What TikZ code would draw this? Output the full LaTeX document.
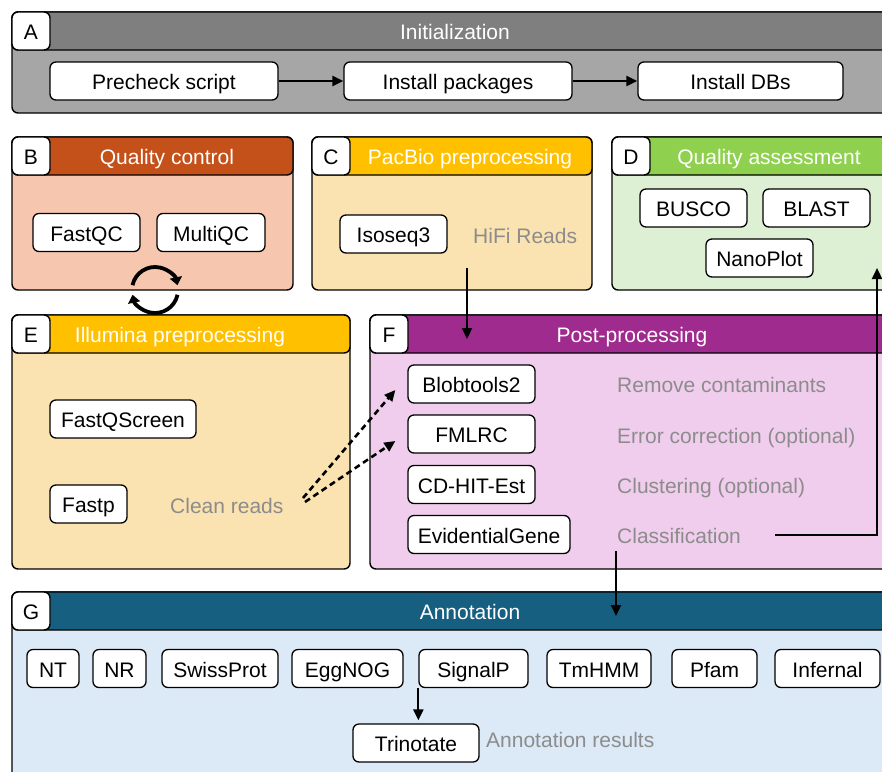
\documentclass[tikz,border=0pt]{standalone}
\usepackage{fontspec}
\setmainfont{Liberation Sans}
\usetikzlibrary{arrows.meta}

\definecolor{headA}{HTML}{7F7F7F}
\definecolor{bodyA}{HTML}{A6A6A6}
\definecolor{headB}{HTML}{C4511A}
\definecolor{bodyB}{HTML}{F6C6AE}
\definecolor{headC}{HTML}{FFC000}
\definecolor{bodyC}{HTML}{FAE3B0}
\definecolor{headD}{HTML}{8FD14F}
\definecolor{bodyD}{HTML}{DDF0D4}
\definecolor{headF}{HTML}{A02B8F}
\definecolor{bodyF}{HTML}{F0CDEC}
\definecolor{headG}{HTML}{175F80}
\definecolor{bodyG}{HTML}{DCE9F6}
\definecolor{notegray}{HTML}{8C8C8C}

\begin{document}
\begin{tikzpicture}[x=1pt, y=-1pt, font=\fontsize{21}{25}\selectfont,
	panel/.style={draw=black, line width=1.4pt, rounded corners=6pt},
	tag/.style={draw=black, fill=white, line width=1.4pt, rounded corners=6pt, minimum width=38pt, minimum height=38pt, inner sep=0pt, text height=17.5pt, text depth=0.5pt},
	title/.style={text=white, inner sep=0pt, text height=17.5pt, text depth=0.5pt},
	tool/.style={draw=black, fill=white, line width=1.3pt, rounded corners=6pt, minimum height=38pt, inner sep=2pt, text height=17.5pt, text depth=0.5pt},
	note/.style={text=notegray, anchor=west, inner sep=0pt, text height=17.5pt, text depth=0.5pt},
	arr/.style={-{Triangle[length=11pt,width=10pt]}, line width=2.2pt},
	dasharr/.style={arr, line width=2.6pt, dash pattern=on 6pt off 4pt},
	cycarr/.style={-{Triangle[length=8pt,width=12pt]}, line width=3.8pt}]
			\path[use as bounding box] (0,0) rectangle (882,771);
			\clip (0,0) rectangle (882,771);
			
			\draw[panel, fill=bodyA] (12,12) rectangle (895,113);
			\draw[panel, fill=headA] (12,12) rectangle (895,50);
			\node[tag] (tA) at (31,31){A};
			\node[title] (hA) at (455,31){Initialization};
			\node[tool, minimum width=228] (pre) at (164,81){Precheck script};
			\node[tool, minimum width=228] (pkg) at (458,81){Install packages};
			\node[tool, minimum width=205] (dbs) at (740.5,81){Install DBs};
			
			\draw[panel, fill=bodyB] (12,137) rectangle (293,290);
			\draw[panel, fill=headB] (12,137) rectangle (293,175);
			\node[tag] (tB) at (31,156){B};
			\node[title] (hB) at (167,156){Quality control};
			\node[tool, minimum width=107] (fastqc) at (86.5,232.5){FastQC};
			\node[tool, minimum width=108] (multiqc) at (211,232.5){MultiQC};
			
			\draw[panel, fill=bodyC] (312,137) rectangle (592,290);
			\draw[panel, fill=headC] (312,137) rectangle (592,175);
			\node[tag] (tC) at (331,156){C};
			\node[title] (hC) at (470,156){PacBio preprocessing};
			\node[tool, minimum width=107] (isoseq) at (393.5,234){Isoseq3};
			\node[note] (hifi) at (473,235){HiFi Reads};
			
			\draw[panel, fill=bodyD] (612,137) rectangle (895,290);
			\draw[panel, fill=headD] (612,137) rectangle (895,175);
			\node[tag] (tD) at (631,156){D};
			\node[title] (hD) at (769,156){Quality assessment};
			\node[tool, minimum width=107] (busco) at (693.5,208){BUSCO};
			\node[tool, minimum width=107] (blast) at (816.5,208){BLAST};
			\node[tool, minimum width=107] (nanoplot) at (759.5,258){NanoPlot};
			
			\draw[panel, fill=bodyC] (12,315) rectangle (350,569);
			\draw[panel, fill=headC] (12,315) rectangle (350,353);
			\node[tag] (tE) at (31,334){E};
			\node[title] (hE) at (180,334){Illumina preprocessing};
			\node[tool, minimum width=146] (fastqscreen) at (123,419){FastQScreen};
			\node[tool, minimum width=77] (fastp) at (88.5,504){Fastp};
			\node[note] (clean) at (170,505){Clean reads};
			
			\draw[panel, fill=bodyF] (370,315) rectangle (895,569);
			\draw[panel, fill=headF] (370,315) rectangle (895,353);
			\node[tag] (tF) at (389,334){F};
			\node[title] (hF) at (632,334){Post-processing};
			\node[tool, minimum width=127] (blob) at (471.5,384){Blobtools2};
			\node[tool, minimum width=127] (fmlrc) at (471.5,434){FMLRC};
			\node[tool, minimum width=127] (cdhit) at (471.5,484.5){CD-HIT-Est};
			\node[tool, minimum width=162] (evid) at (489,534.5){EvidentialGene};
			\node[note] (rmcont) at (617,384){Remove contaminants};
			\node[note] (errcor) at (617,435){Error correction (optional)};
			\node[note] (clust) at (617,485){Clustering (optional)};
			\node[note] (classif) at (617,535){Classification};
			
			\draw[panel, fill=bodyG] (12,592) rectangle (895,790);
			\draw[panel, fill=headG] (12,592) rectangle (895,630);
			\node[tag] (tG) at (31,611){G};
			\node[title] (hG) at (470,611){Annotation};
			\node[tool, minimum width=52] (nt) at (53,668.5){NT};
			\node[tool, minimum width=53] (nr) at (119.5,668.5){NR};
			\node[tool, minimum width=116] (swissprot) at (220,668.5){SwissProt};
			\node[tool, minimum width=111] (eggnog) at (347.5,668.5){EggNOG};
			\node[tool, minimum width=109] (signalp) at (473.5,668.5){SignalP};
			\node[tool, minimum width=104] (tmhmm) at (599,668.5){TmHMM};
			\node[tool, minimum width=85] (pfam) at (714.5,668.5){Pfam};
			\node[tool, minimum width=105] (infernal) at (827.5,668.5){Infernal};
			\node[tool, minimum width=126] (trino) at (416,743){Trinotate};
			\node[note] (annres) at (486,739){Annotation results};
			
			\coordinate (hifiout) at (467,268);
			\coordinate (postin) at (467,339);
			\coordinate (clean1) at (303,498);
			\coordinate (clean2) at (305,502);
			\coordinate (clsout) at (775,535);
			\coordinate (qain) at (877,268);
			\coordinate (clsdown) at (616,551);
			\coordinate (annin) at (616,616);
			\coordinate (cyc) at (155,290);
			
			\draw[arr] (pre) -- (pkg);
			\draw[arr] (pkg) -- (dbs);
			\draw[arr] (hifiout) -- (postin);
			\draw[dasharr] (clean1) -- ([shift={(-12,6)}]blob.west);
			\draw[dasharr] (clean2) -- ([shift={(-12,7)}]fmlrc.west);
			\draw[arr] (clsout) -| (qain);
			\draw[arr] (clsdown) -- (annin);
			\draw[arr, shorten >=3pt] (signalp.south west) -- (signalp.south west |- trino.north);
			\draw[cycarr] ([shift={(192:23)}]cyc) arc[start angle=192, end angle=348, radius=23];
			\draw[cycarr] ([shift={(12:23)}]cyc) arc[start angle=12, end angle=168, radius=23];
			\end{tikzpicture}
\end{document}
